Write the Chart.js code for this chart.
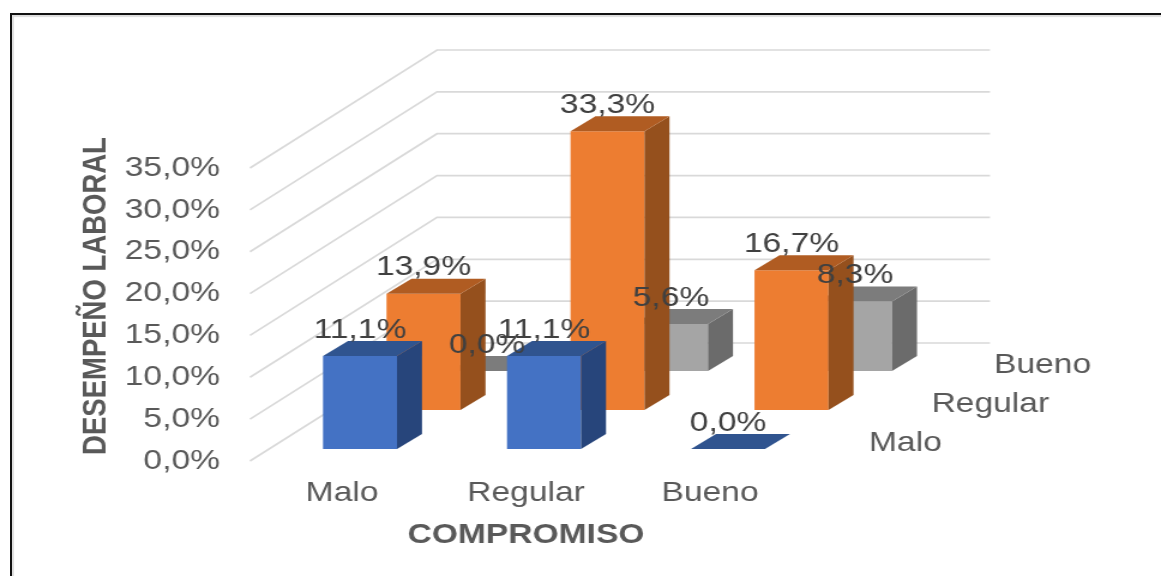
<!DOCTYPE html>
<html>
<head>
<meta charset="utf-8">
<title>Compromiso y desempeño laboral</title>
<script src="https://cdn.jsdelivr.net/npm/chart.js@4"></script>
<style>
    html, body { margin: 0; height: 100%; background: #fff; overflow: hidden; }
    #frame {
        position: absolute; left: 10px; top: 13px; width: 1170px; height: 580px;
        border: 2px solid #111; box-shadow: inset 2px 2px 1px #ddd;
    }
    /* the source picture is stretched sideways, text included */
    #myChart { position: absolute; left: 0; top: 0; transform-origin: 0 0; transform: scaleX(1.19938); }
</style>
</head>
<body>
<div id="frame"></div>
<canvas id="myChart" width="968" height="576"></canvas>
<script>
// data, percent
const categories = ["Malo", "Regular", "Bueno"];
const seriesNames = ["Malo", "Regular", "Bueno"];
const maloValues = [11.1, 11.1, 0.0];
const regularValues = [13.9, 33.3, 16.7];
const buenoValues = [0.0, 5.6, 8.3];

const STRETCH = 1161 / 968;
const px = (v) => v / STRETCH; // picture x to canvas x

const frontColors = ["#4472C4", "#ED7D31", "#A5A5A5"];
const sideColors = ["#27457B", "#95501D", "#6B6B6B"];
const topColors = ["#30548F", "#B05C22", "#7C7C7C"];

const FONT = "'Liberation Sans', Arial, sans-serif";
const DEPTH_X = px(25);
const DEPTH_Y = 15;

const formatPct = (v) => v.toFixed(1).replace(".", ",") + "%";

// how far each row sits from the axis, in canvas units
function rowShift(row) {
    return { x: px(18 + row * 63.5), y: -12 - row * 39 };
}

const fakeDepth = {
    id: "fakeDepth",
    beforeDatasetsDraw(chart) {
        const { ctx, chartArea, scales } = chart;
        ctx.save();
        ctx.strokeStyle = "#D9D9D9";
        ctx.lineWidth = 1.7;
        // walls: one bent line for each tick
        scales.y.ticks.forEach((tick) => {
            const y = scales.y.getPixelForValue(tick.value);
            ctx.beginPath();
            ctx.moveTo(chartArea.left, y);
            ctx.lineTo(px(437), y - 118);
            ctx.lineTo(px(990), y - 118);
            ctx.stroke();
        });
        ctx.restore();
    },
    beforeDatasetDraw(chart, args) {
        const shift = rowShift(args.index);
        chart.ctx.save();
        chart.ctx.translate(shift.x, shift.y);
    },
    afterDatasetDraw(chart, args) {
        const ctx = chart.ctx;
        args.meta.data.forEach((bar) => {
            const { x, y, base, width } = bar.getProps(["x", "y", "base", "width"], true);
            const right = x + width / 2;
            const left = x - width / 2;

            ctx.fillStyle = sideColors[args.index];
            ctx.beginPath();
            ctx.moveTo(right, y);
            ctx.lineTo(right + DEPTH_X, y - DEPTH_Y);
            ctx.lineTo(right + DEPTH_X, base - DEPTH_Y);
            ctx.lineTo(right, base);
            ctx.closePath();
            ctx.fill();

            ctx.fillStyle = topColors[args.index];
            ctx.beginPath();
            ctx.moveTo(left, y);
            ctx.lineTo(left + DEPTH_X, y - DEPTH_Y);
            ctx.lineTo(right + DEPTH_X, y - DEPTH_Y);
            ctx.lineTo(right, y);
            ctx.closePath();
            ctx.fill();
        });
        ctx.restore();
    },
    afterDatasetsDraw(chart) {
        const ctx = chart.ctx;
        ctx.save();
        ctx.textBaseline = "middle";

        // value labels on top of everything
        ctx.font = "28px " + FONT;
        ctx.fillStyle = "#404040";
        ctx.textAlign = "center";
        chart.data.datasets.forEach((ds, row) => {
            const shift = rowShift(row);
            chart.getDatasetMeta(row).data.forEach((bar, i) => {
                ctx.fillText(formatPct(ds.data[i]), bar.x + shift.x, bar.y + shift.y - 26);
            });
        });

        // series names along the depth axis
        ctx.fillStyle = "#595959";
        ctx.textAlign = "left";
        seriesNames.forEach((name, row) => {
            ctx.fillText(name, px(869 + row * 62.5), 443 - row * 39);
        });

        // y title, it sits higher than the centre of the scale
        ctx.font = "bold 27.5px " + FONT;
        ctx.textAlign = "center";
        ctx.translate(px(97), 296);
        ctx.rotate(-Math.PI / 2);
        ctx.fillText("DESEMPEÑO LABORAL", 0, 0);
        ctx.restore();
    },
};

const ctx = document.getElementById("myChart").getContext("2d");
const myChart = new Chart(ctx, {
    type: "bar",
    data: {
        labels: categories,
        datasets: [
            { label: seriesNames[0], data: maloValues, backgroundColor: frontColors[0], clip: false },
            { label: seriesNames[1], data: regularValues, backgroundColor: frontColors[1], clip: false },
            { label: seriesNames[2], data: buenoValues, backgroundColor: frontColors[2], clip: false },
        ],
    },
    options: {
        responsive: false,
        maintainAspectRatio: false,
        animation: false,
        grouped: false,
        barPercentage: 74 / 184,
        categoryPercentage: 1,
        layout: {
            padding: { top: 168, left: 0, right: 968 - px(802), bottom: 24 },
        },
        plugins: {
            legend: { display: false },
            tooltip: { enabled: false },
        },
        scales: {
            x: {
                grid: { display: false },
                border: { display: false },
                ticks: {
                    color: "#595959",
                    font: { family: FONT, size: 28 },
                    padding: 7,
                    maxRotation: 0,
                    autoSkip: false,
                },
                title: {
                    display: true,
                    text: "COMPROMISO",
                    color: "#595959",
                    font: { family: FONT, size: 28, weight: "bold" },
                    padding: 0,
                },
                afterFit(scale) { scale.height = 91; },
            },
            y: {
                min: 0,
                max: 35,
                grid: { display: false, drawTicks: false },
                border: { display: false },
                ticks: {
                    stepSize: 5,
                    color: "#595959",
                    font: { family: FONT, size: 28 },
                    padding: 25,
                    autoSkip: false,
                    callback: (v) => formatPct(v),
                },
                afterFit(scale) { scale.width = px(250); },
            },
        },
    },
    plugins: [fakeDepth],
});
</script>
</body>
</html>
